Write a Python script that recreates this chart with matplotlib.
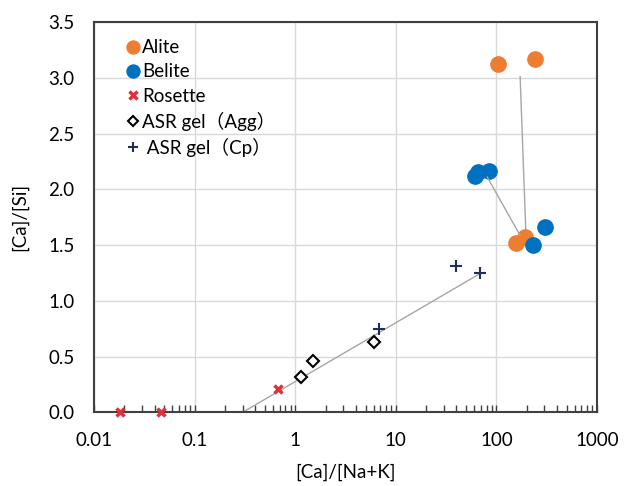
import matplotlib
matplotlib.use("Agg")
import matplotlib.pyplot as plt
from matplotlib.ticker import FixedLocator, LogLocator, NullFormatter, FuncFormatter

plt.rcParams['font.family'] = ['Lato', 'Noto Sans CJK JP', 'DejaVu Sans']

# [Ca]/[Na+K] vs [Ca]/[Si]
alite_x = [104, 239, 155, 192]
alite_y = [3.12, 3.165, 1.52, 1.575]

belite_x = [61, 66, 84, 230, 301]
belite_y = [2.12, 2.155, 2.16, 1.50, 1.665]

rosette_x = [0.018, 0.046, 0.67]
rosette_y = [0.0, 0.0, 0.205]

agg_x = [1.14, 1.51, 6.07]
agg_y = [0.32, 0.46, 0.63]

cp_x = [6.8, 39.6, 68.7]
cp_y = [0.745, 1.316, 1.248]

# thin gray trend lines (start, end)
trend_asr_x = [0.30, 66]
trend_asr_y = [0.0, 1.235]
trend_alite_x = [172, 197]
trend_alite_y = [3.01, 1.565]
trend_belite_x = [81, 171]
trend_belite_y = [2.11, 1.59]

x_ticks = [0.01, 0.1, 1, 10, 100, 1000]
x_labels = ["0.01", "0.1", "1", "10", "100", "1000"]
y_ticks = [0.0, 0.5, 1.0, 1.5, 2.0, 2.5, 3.0, 3.5]

fig = plt.figure(figsize=(6.28, 4.86), dpi=100)
ax = fig.add_axes([0.1497, 0.1516, 0.801, 0.8031])

line_col = '#A6A6A6'
ax.plot(trend_asr_x, trend_asr_y, color=line_col, lw=1, zorder=2)
ax.plot(trend_alite_x, trend_alite_y, color=line_col, lw=1, zorder=2)
ax.plot(trend_belite_x, trend_belite_y, color=line_col, lw=1, zorder=4)

ax.plot(alite_x, alite_y, 'o', color='#ED7D31', ms=11, ls='none', label='Alite', zorder=3)
ax.plot(belite_x, belite_y, 'o', color='#0070C0', ms=11, ls='none', label='Belite', zorder=3)
ax.plot(rosette_x, rosette_y, 'x', color='#E0303A', ms=6, mew=2.5, ls='none',
        label='Rosette', zorder=5, clip_on=False)
ax.plot(agg_x, agg_y, 'D', mfc='white', mec='black', ms=6.5, mew=1.5, ls='none',
        label='ASR gel（Agg）', zorder=5)
ax.plot(cp_x, cp_y, '+', color='#1F2D5A', ms=8, mew=1.5, ls='none',
        label=' ASR gel（Cp）', zorder=5)

ax.set_xscale('log')
ax.set_xlim(0.01, 1000)
ax.set_ylim(0, 3.5)

ax.xaxis.set_major_locator(FixedLocator(x_ticks))
ax.set_xticklabels(x_labels)
ax.xaxis.set_minor_locator(LogLocator(base=10, subs=range(2, 10), numticks=20))
ax.xaxis.set_minor_formatter(NullFormatter())
ax.yaxis.set_major_locator(FixedLocator(y_ticks))
ax.yaxis.set_major_formatter(FuncFormatter(lambda v, p: f"{v:.1f}"))

ax.tick_params(axis='x', which='both', direction='in', length=5, width=1,
               color='#404040', labelsize=13.5, pad=14)
ax.tick_params(axis='y', which='both', length=0, labelsize=13.5, pad=14)

ax.grid(True, which='major', color='#D9D9D9', lw=1)
ax.set_axisbelow(True)
for s in ax.spines.values():
    s.set_color('#404040')
    s.set_linewidth(1.5)

ax.set_xlabel('[Ca]/[Na+K]', fontsize=13.5, labelpad=11)
ax.set_ylabel('[Ca]/[Si]', fontsize=13.5, labelpad=14)

leg = ax.legend(loc='upper left', frameon=False, fontsize=13.5, handletextpad=0.05,
                handlelength=0.9, labelspacing=0.38, borderaxespad=0.0,
                bbox_to_anchor=(0.045, 0.975), markerscale=0.85)

fig.savefig('out.png', dpi=100)
